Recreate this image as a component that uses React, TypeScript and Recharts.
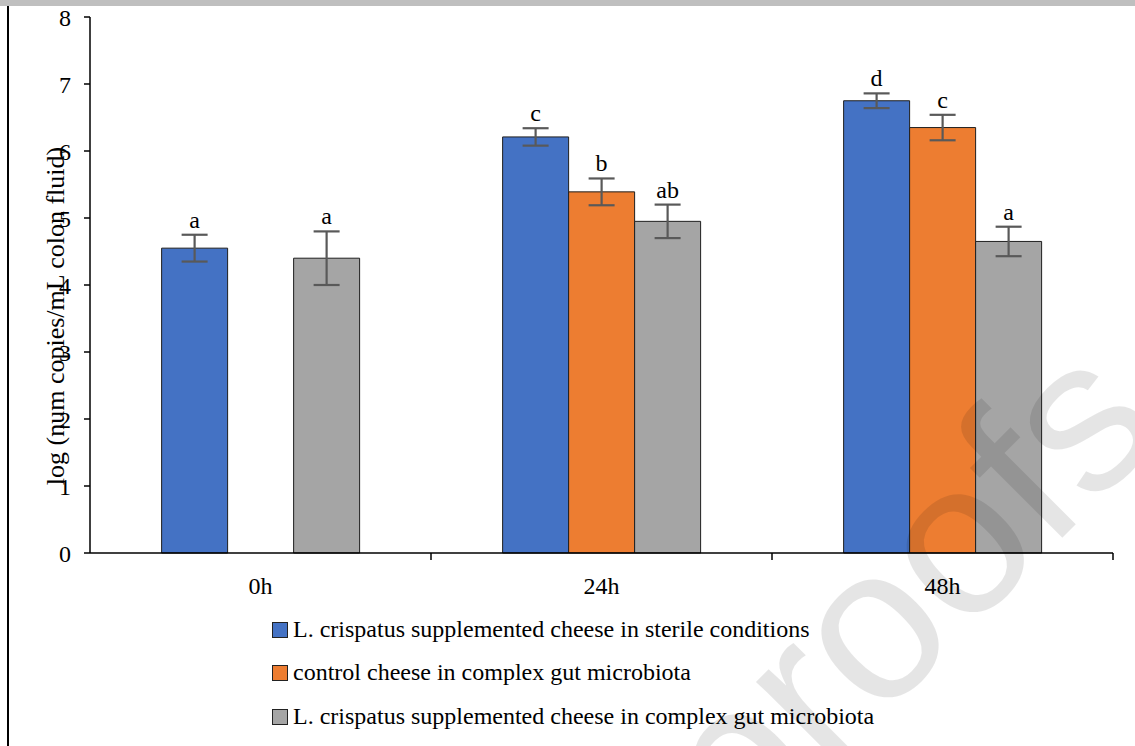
import React from 'react';
import { BarChart, Bar, XAxis, YAxis, ErrorBar, LabelList } from 'recharts';

const categories = ['0h', '24h', '48h'];
const seriesNames = [
  'L. crispatus supplemented cheese in sterile conditions',
  'control cheese in complex gut microbiota',
  'L. crispatus supplemented cheese in complex gut microbiota',
];
const seriesColors = ['#4472C4', '#ED7D31', '#A5A5A5'];

const sterileValues = [4.55, 6.21, 6.75];
const sterileErrors = [0.2, 0.13, 0.11];
const sterileLetters = ['a', 'c', 'd'];

const controlValues = [0, 5.39, 6.35];
const controlErrors = [0, 0.2, 0.19];
const controlLetters = ['', 'b', 'c'];

const complexValues = [4.4, 4.95, 4.65];
const complexErrors = [0.4, 0.25, 0.22];
const complexLetters = ['a', 'ab', 'a'];

const yTicks = [0, 1, 2, 3, 4, 5, 6, 7, 8];
const yLabel = 'log (num copies/mL colon fluid)';
const watermark = 'proofs';

const data = categories.map((c, i) => ({
  name: c,
  sterile: sterileValues[i],
  sterileErr: sterileErrors[i],
  control: controlValues[i],
  controlErr: controlErrors[i],
  complex: complexValues[i],
  complexErr: complexErrors[i],
}));

const FONT = '"Liberation Serif", "Times New Roman", serif';

const CategoryTick = (props: any) => {
  const { x, y, payload, index, visibleTicksCount } = props;
  const half = payload && typeof payload.offset === 'number' ? payload.offset : 0;
  return (
    <g>
      {index > 0 && half > 0 && (
        <line x1={x - half} x2={x - half} y1={y} y2={y + 7} stroke="#000" strokeWidth={1.5} />
      )}
      {index === visibleTicksCount - 1 && half > 0 && (
        <line x1={x + half} x2={x + half} y1={y} y2={y + 7} stroke="#000" strokeWidth={1.5} />
      )}
      <text x={x} y={y + 41} textAnchor="middle" fontSize={24} fontFamily={FONT} fill="#000">
        {payload.value}
      </text>
    </g>
  );
};

const makeLetterLabel = (letters: string[], errors: number[], values: number[]) => (props: any) => {
  const { x, y, width, height, value } = props;
  const i = values.indexOf(Number(value));
  if (i < 0) return null;
  const letter = letters[i];
  const v = values[i];
  if (!letter || !v) return null;
  const pxPerUnit = height / v;
  const top = y - errors[i] * pxPerUnit;
  return (
    <text x={x + width / 2} y={top - 7} textAnchor="middle" fontSize={24} fontFamily={FONT} fill="#000">
      {letter}
    </text>
  );
};

const YLabel = (props: any) => {
  const vb = props.viewBox || { x: 0, y: 0, width: 0, height: 0 };
  const cx = 64;
  const cy = vb.y + vb.height / 2 + 31;
  return (
    <text
      x={cx}
      y={cy}
      transform={`rotate(-90, ${cx}, ${cy})`}
      textAnchor="middle"
      fontSize={26}
      fontFamily={FONT}
      fill="#000"
    >
      {yLabel}
    </text>
  );
};

export default function App() {
  return (
    <div
      style={{
        position: 'absolute',
        left: 0,
        top: 0,
        width: 1135,
        height: 746,
        background: '#fff',
        overflow: 'hidden',
      }}
    >
      <div style={{ position: 'absolute', left: 0, top: 0, width: 1135, height: 6, background: '#bfbfbf' }} />
      <div style={{ position: 'absolute', left: 7, top: 6, width: 2, height: 740, background: '#000' }} />
      <div style={{ position: 'absolute', left: 0, top: 0 }}>
        <BarChart
          width={1135}
          height={746}
          data={data}
          margin={{ top: 17, right: 22, left: 30, bottom: 153 }}
          barCategoryGap="21%"
          barGap={0}
        >
          <XAxis
            dataKey="name"
            height={40}
            tickLine={false}
            tickSize={0}
            tickMargin={0}
            axisLine={{ stroke: '#000', strokeWidth: 1.5 }}
            tick={<CategoryTick />}
            interval={0}
          />
          <YAxis
            width={60}
            domain={[0, 8]}
            ticks={yTicks}
            interval={0}
            tickSize={6}
            tickMargin={13}
            axisLine={{ stroke: '#000', strokeWidth: 1.5 }}
            tickLine={{ stroke: '#000', strokeWidth: 1.5 }}
            tick={{ fontSize: 24, fontFamily: FONT, fill: '#000' }}
            label={<YLabel />}
          />
          <Bar dataKey="sterile" name={seriesNames[0]} fill={seriesColors[0]} stroke="#1f1f1f" strokeWidth={1} isAnimationActive={false}>
            <ErrorBar dataKey="sterileErr" width={13} strokeWidth={2.2} stroke="#595959" isAnimationActive={false} />
            <LabelList dataKey="sterile" content={makeLetterLabel(sterileLetters, sterileErrors, sterileValues)} />
          </Bar>
          <Bar dataKey="control" name={seriesNames[1]} fill={seriesColors[1]} stroke="#1f1f1f" strokeWidth={1} isAnimationActive={false}>
            <ErrorBar dataKey="controlErr" width={13} strokeWidth={2.2} stroke="#595959" isAnimationActive={false} />
            <LabelList dataKey="control" content={makeLetterLabel(controlLetters, controlErrors, controlValues)} />
          </Bar>
          <Bar dataKey="complex" name={seriesNames[2]} fill={seriesColors[2]} stroke="#1f1f1f" strokeWidth={1} isAnimationActive={false}>
            <ErrorBar dataKey="complexErr" width={13} strokeWidth={2.2} stroke="#595959" isAnimationActive={false} />
            <LabelList dataKey="complex" content={makeLetterLabel(complexLetters, complexErrors, complexValues)} />
          </Bar>
        </BarChart>
      </div>
      {seriesNames.map((name, i) => (
        <div key={name} style={{ position: 'absolute', left: 272, top: [615, 658, 702][i], height: 28, whiteSpace: 'nowrap' }}>
          <span
            style={{
              position: 'absolute',
              left: 0,
              top: 7,
              width: 14,
              height: 14,
              border: '1px solid #222',
              background: seriesColors[i],
            }}
          />
          <span
            style={{
              position: 'absolute',
              left: 21,
              top: 0,
              fontFamily: FONT,
              fontSize: 24,
              lineHeight: '28px',
              color: '#000',
            }}
          >
            {name}
          </span>
        </div>
      ))}
      <svg
        width={1135}
        height={746}
        style={{ position: 'absolute', left: 0, top: 0, pointerEvents: 'none' }}
      >
        <text
          x={1168}
          y={432}
          transform="rotate(-45, 1168, 432)"
          textAnchor="end"
          fontSize={217}
          fontFamily='"Liberation Sans", Arial, sans-serif'
          fill="#000"
          fillOpacity={0.1}
        >
          {watermark}
        </text>
      </svg>
    </div>
  );
}
